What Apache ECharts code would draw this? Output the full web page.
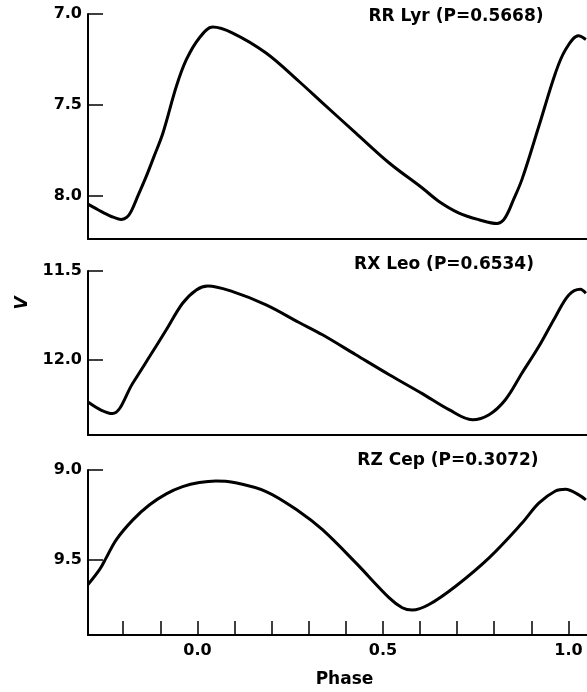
<!DOCTYPE html>
<html>
<head>
<meta charset="utf-8">
<script src="https://cdn.jsdelivr.net/npm/echarts@6/dist/echarts.min.js"></script>
<style>html,body{margin:0;padding:0;background:#fff}#c{width:587px;height:692px}</style>
</head>
<body>
<div id="c"></div>
<script>
// ---- data (phase, V magnitude) ----
const rrLyrPhase = [-0.295,-0.268,-0.232,-0.205,-0.19,-0.178,-0.16,-0.138,-0.118,-0.093,-0.057,-0.03,0.005,0.041,0.095,0.185,0.274,0.337,0.427,0.517,0.606,0.651,0.705,0.759,0.808,0.825,0.838,0.848,0.875,0.92,0.965,0.992,1.027,1.047];
const rrLyrMag   = [8.048,8.079,8.116,8.132,8.12,8.085,8.0,7.895,7.79,7.656,7.40,7.252,7.132,7.072,7.105,7.215,7.372,7.49,7.656,7.821,7.959,8.033,8.097,8.134,8.155,8.135,8.09,8.042,7.91,7.62,7.325,7.197,7.12,7.14];

const rxLeoPhase = [-0.295,-0.26,-0.229,-0.174,-0.129,-0.084,-0.04,-0.003,0.028,0.095,0.185,0.274,0.337,0.427,0.517,0.606,0.678,0.741,0.786,0.83,0.875,0.92,0.965,1.001,1.032,1.047];
const rxLeoMag   = [12.235,12.28,12.30,12.128,11.98,11.83,11.681,11.606,11.584,11.616,11.69,11.789,11.858,11.97,12.082,12.188,12.278,12.334,12.306,12.222,12.072,11.924,11.756,11.634,11.602,11.625];

const rzCepPhase = [-0.295,-0.264,-0.246,-0.219,-0.174,-0.129,-0.084,-0.04,0.005,0.05,0.095,0.185,0.274,0.337,0.427,0.517,0.552,0.579,0.624,0.696,0.786,0.875,0.92,0.965,0.992,1.028,1.047];
const rzCepMag   = [9.639,9.556,9.49,9.389,9.278,9.194,9.133,9.093,9.07,9.061,9.068,9.12,9.231,9.333,9.518,9.713,9.768,9.781,9.75,9.648,9.49,9.296,9.185,9.117,9.107,9.139,9.167];

const starNames = ['RR Lyr (P=0.5668)', 'RX Leo (P=0.6534)', 'RZ Cep (P=0.3072)'];
const yTicks = [[7.0, 7.5, 8.0], [11.5, 12.0], [9.0, 9.5]];
const yRanges = [[7.0, 8.24], [11.5, 12.42], [9.0, 9.92]];
const xTicks = [-0.2,-0.1,0.0,0.1,0.2,0.3,0.4,0.5,0.6,0.7,0.8,0.9,1.0];
const xTickLabels = [0.0, 0.5, 1.0];
const xRange = [-0.295, 1.05];
const xName = 'Phase';
const yName = 'V';

// ---- layout ----
const panels = [
  {top: 14, height: 225},
  {top: 271, height: 164},
  {top: 470, height: 165}
];
const titlePos = [[456, 17], [444, 265], [448, 461]];
const FONT = '"DejaVu Sans", sans-serif';

const series = [[rrLyrPhase, rrLyrMag], [rxLeoPhase, rxLeoMag], [rzCepPhase, rzCepMag]];

const grid = [], xAxis = [], yAxis = [], ser = [], graphic = [];
panels.forEach((p, i) => {
  const last = i === panels.length - 1;
  grid.push({left: 88, width: 499, top: p.top, height: p.height, containLabel: false});
  xAxis.push({
    type: 'value', gridIndex: i, min: xRange[0], max: xRange[1],
    splitLine: {show: false},
    axisLine: {show: true, onZero: false, lineStyle: {color: '#000', width: 2}},
    axisTick: {show: last, inside: true, length: 14, customValues: xTicks, lineStyle: {color: '#000', width: 1.5}},
    axisLabel: {show: last, customValues: xTickLabels, margin: 8, color: '#000',
      fontFamily: FONT, fontWeight: 'bold', fontSize: 16, formatter: v => v.toFixed(1)},
    name: last ? xName : '', nameLocation: 'middle', nameGap: 36,
    nameTextStyle: {color: '#000', fontFamily: FONT, fontWeight: 'bold', fontSize: 17, padding: [0, 0, 0, 14]}
  });
  yAxis.push({
    type: 'value', gridIndex: i, inverse: true, min: yRanges[i][0], max: yRanges[i][1],
    splitLine: {show: false},
    axisLine: {show: true, onZero: false, lineStyle: {color: '#000', width: 2}},
    axisTick: {show: true, inside: true, length: 15, customValues: yTicks[i], lineStyle: {color: '#000', width: 1.5}},
    axisLabel: {show: true, customValues: yTicks[i], margin: 6, color: '#000',
      fontFamily: FONT, fontWeight: 'bold', fontSize: 16, formatter: v => v.toFixed(1)}
  });
  const [ph, mg] = series[i];
  ser.push({
    type: 'line', xAxisIndex: i, yAxisIndex: i,
    data: ph.map((x, k) => [x, mg[k]]),
    showSymbol: false, smooth: 0.35,
    lineStyle: {color: '#000', width: 3}, clip: true, animation: false
  });
  graphic.push({
    type: 'text', x: titlePos[i][0], y: titlePos[i][1],
    style: {text: starNames[i], fill: '#000', font: 'bold 17px ' + FONT, textAlign: 'center', textVerticalAlign: 'middle'}
  });
});
graphic.push({
  type: 'text', x: 23, y: 303, rotation: Math.PI / 2,
  style: {text: yName, fill: '#000', font: 'italic bold 17px ' + FONT, textAlign: 'center', textVerticalAlign: 'middle'}
});

const chart = echarts.init(document.getElementById('c'), null, {renderer: 'canvas'});
chart.setOption({
  animation: false,
  backgroundColor: '#fff',
  grid, xAxis, yAxis, series: ser, graphic
});
</script>
</body>
</html>
